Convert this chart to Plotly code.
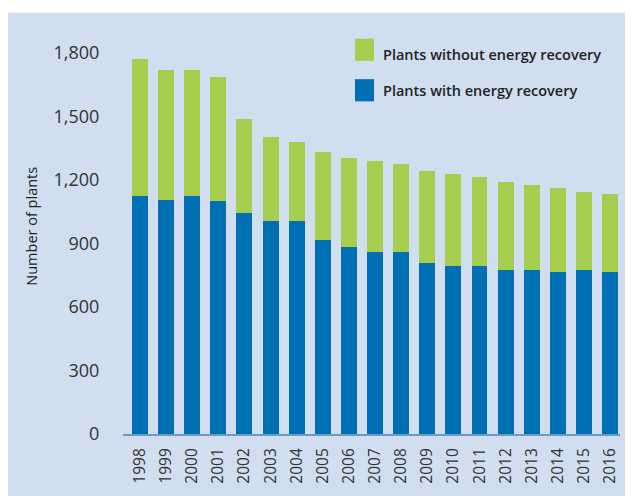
import plotly.graph_objects as go

years = [str(y) for y in range(1998, 2017)]
with_energy = [1124, 1105, 1124, 1100, 1045, 1005, 1005, 918, 886, 859, 859, 809, 795, 795, 777, 777, 764, 777, 764]
total = [1773, 1718, 1718, 1686, 1491, 1405, 1382, 1332, 1305, 1291, 1277, 1241, 1227, 1214, 1191, 1177, 1164, 1145, 1132]
without_energy = [t - w for t, w in zip(total, with_energy)]

y_ticks = [0, 300, 600, 900, 1200, 1500, 1800]
y_ticklabels = ["0", "300", "600", "900", "1,200", "1,500", "1,800"]

name_with = "Plants with energy recovery"
name_without = "Plants without energy recovery"

BLUE = "#0070B4"
GREEN = "#A6CE4E"
BG = "#D0DEEF"

# page has 8px body margin; figure sized to the visible area
OFF = 8
W, H = 625, 488
L, R, T, B = 115, 13, 22, 47
pw, ph = W - L - R, H - T - B

def px(x):  # x in window pixels
    return (x - OFF - L) / pw

def py(y):  # y in window pixels
    return (H - B - (y - OFF)) / ph

fig = go.Figure()
fig.add_trace(go.Bar(x=years, y=with_energy, name=name_with, marker_color=BLUE,
                     marker_line_width=0, showlegend=False))
fig.add_trace(go.Bar(x=years, y=without_energy, name=name_without, marker_color=GREEN,
                     marker_line_width=0, showlegend=False))

shapes = [
    dict(type="rect", xref="paper", yref="paper", x0=px(0), x1=px(700), y0=py(0), y1=py(12),
         fillcolor="white", line_width=0, layer="below"),
    dict(type="rect", xref="paper", yref="paper", x0=px(355), x1=px(374), y0=py(39), y1=py(62),
         fillcolor=GREEN, line_width=0),
    dict(type="rect", xref="paper", yref="paper", x0=px(355), x1=px(374), y0=py(81), y1=py(104),
         fillcolor=BLUE, line_width=0),
]

legend_font = dict(family="Open Sans", size=14.5, color="#222222", weight=600)
annotations = [
    dict(text=name_without, xref="paper", yref="paper", x=px(381), y=py(55), xanchor="left",
         yanchor="middle", showarrow=False, font=legend_font),
    dict(text=name_with, xref="paper", yref="paper", x=px(381), y=py(93), xanchor="left",
         yanchor="middle", showarrow=False, font=legend_font),
    dict(text="Number of plants", xref="paper", yref="paper", x=px(32), y=py(234),
         xanchor="center", yanchor="middle", textangle=-90, showarrow=False,
         font=dict(family="Open Sans", size=14.5, color="#222222")),
]

fig.update_layout(
    width=W, height=H,
    margin=dict(l=L, r=R, t=T, b=B, pad=0),
    paper_bgcolor=BG, plot_bgcolor=BG,
    barmode="stack", bargap=0.39,
    shapes=shapes, annotations=annotations,
    font=dict(family="Open Sans", color="#333333"),
)
fig.update_xaxes(range=[-0.65, 18.38], tickangle=-90, showgrid=False, zeroline=False,
                 showline=True, linecolor="#6B9AC4", linewidth=2,
                 ticks="outside", ticklen=6, tickcolor="rgba(0,0,0,0)",
                 tickfont=dict(size=15.5, color="#333333"))
fig.update_yaxes(range=[0, ph / (395 / 1800)], tickvals=y_ticks, ticktext=y_ticklabels,
                 showgrid=False, zeroline=False, showline=False,
                 ticks="outside", ticklen=19, tickcolor="rgba(0,0,0,0)",
                 tickfont=dict(size=18, color="#333333"))

fig.write_html("out.html")
